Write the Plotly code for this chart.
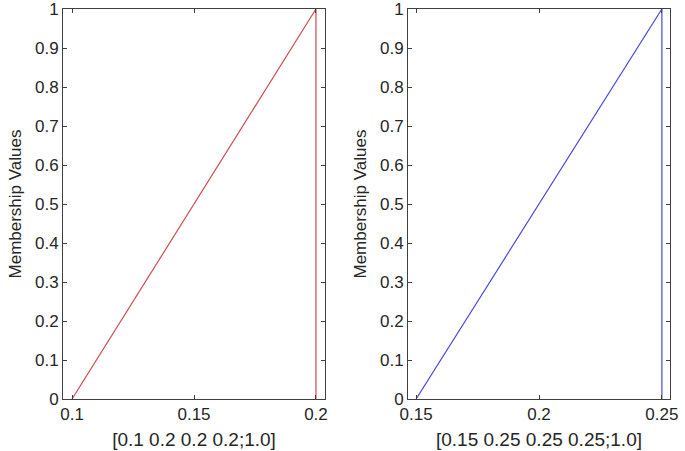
import plotly.graph_objects as go

W, H = 685, 451

left_x = [0.1, 0.2, 0.2]
left_y = [0, 1, 0]
right_x = [0.15, 0.25, 0.25]
right_y = [0, 1, 0]
left_label = "[0.1 0.2 0.2 0.2;1.0]"
right_label = "[0.15 0.25 0.25 0.25;1.0]"
y_title = "Membership Values"
y_ticks = [0, 0.1, 0.2, 0.3, 0.4, 0.5, 0.6, 0.7, 0.8, 0.9, 1]
y_ticktext = ["0", "0.1", "0.2", "0.3", "0.4", "0.5", "0.6", "0.7", "0.8", "0.9", "1"]
left_ticks = [0.1, 0.15, 0.2]
right_ticks = [0.15, 0.2, 0.25]

FONT = "Liberation Sans, Arial"
TXT = "#262626"

fig = go.Figure()
fig.add_trace(go.Scatter(x=left_x, y=left_y, mode="lines",
                         line=dict(color="#d44a55", width=1.2), xaxis="x", yaxis="y",
                         showlegend=False))
fig.add_trace(go.Scatter(x=right_x, y=right_y, mode="lines",
                         line=dict(color="#4a4ae0", width=1.2), xaxis="x2", yaxis="y2",
                         showlegend=False))

axcommon = dict(showline=True, mirror="ticks", linecolor="#404040", linewidth=1,
                ticks="inside", ticklen=4, tickcolor="#404040", showgrid=False,
                zeroline=False, automargin=False, ticklabeloverflow="allow",
                tickfont=dict(family=FONT, size=17, color=TXT))

y0 = 1 - 399 / H
y1 = 1 - 9 / H

fig.update_layout(
    width=W, height=H,
    margin=dict(l=0, r=0, t=0, b=0),
    plot_bgcolor="white", paper_bgcolor="white",
    xaxis=dict(domain=[63 / W, 325 / W], range=[0.0963, 0.2037], tickvals=left_ticks,
               anchor="y",
               title=dict(text=left_label, standoff=9, font=dict(family=FONT, size=19, color=TXT)),
               **axcommon),
    yaxis=dict(domain=[y0, y1], range=[0, 1], tickvals=y_ticks, ticktext=y_ticktext,
               anchor="x",
               title=dict(text=y_title, standoff=9, font=dict(family=FONT, size=17, color=TXT)),
               **axcommon),
    xaxis2=dict(domain=[408 / W, 670 / W], range=[0.1467, 0.2533], tickvals=right_ticks,
                anchor="y2",
                title=dict(text=right_label, standoff=9, font=dict(family=FONT, size=19, color=TXT)),
                **axcommon),
    yaxis2=dict(domain=[y0, y1], range=[0, 1], tickvals=y_ticks, ticktext=y_ticktext,
                anchor="x2",
                title=dict(text=y_title, standoff=9, font=dict(family=FONT, size=17, color=TXT)),
                **axcommon),
)

fig.write_html("out.html", config={"displayModeBar": False},
               post_script="document.body.style.margin='0';")
